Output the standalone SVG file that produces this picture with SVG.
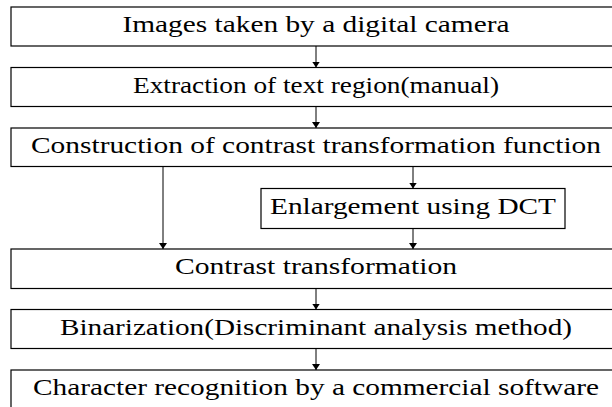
<svg xmlns="http://www.w3.org/2000/svg" width="612" height="407" viewBox="0 0 612 407">
  <style>
    .box { fill: #ffffff; stroke: #000000; stroke-width: 1.2; }
    .edge { stroke: #000000; stroke-width: 1; fill: none; marker-end: url(#arrow); }
  </style>
  <defs>
    <marker id="arrow" viewBox="0 0 6 8" refX="6" refY="4" markerWidth="6" markerHeight="8" markerUnits="userSpaceOnUse" orient="auto">
      <path d="M0,0 L6,4 L0,8 Z" fill="#000000"/>
    </marker>
  </defs>
  <rect width="612" height="407" fill="#ffffff"/>

  <!-- vertical flow arrows -->
  <g id="connectors">
    <line class="edge" x1="316" y1="46" x2="316" y2="67.5"/>
    <line class="edge" x1="316" y1="106.5" x2="316" y2="128"/>
    <line class="edge" x1="163" y1="166.5" x2="163" y2="249"/>
    <line class="edge" x1="413" y1="166.5" x2="413" y2="188.5"/>
    <line class="edge" x1="413" y1="228.5" x2="413" y2="249"/>
    <line class="edge" x1="316" y1="288" x2="316" y2="309.5"/>
    <line class="edge" x1="316" y1="348.5" x2="316" y2="370"/>
  </g>

  <g font-family="'Liberation Serif', serif" font-size="23.5" fill="#000000" text-anchor="middle">
    <g id="camera">
      <rect class="box" x="11" y="7" width="620" height="39"/>
      <text x="316" y="32.3" textLength="387" lengthAdjust="spacingAndGlyphs">Images taken by a digital camera</text>
    </g>
    <g id="extraction">
      <rect class="box" x="11" y="67.5" width="620" height="39"/>
      <text x="316" y="92.8" textLength="366" lengthAdjust="spacingAndGlyphs">Extraction of text region(manual)</text>
    </g>
    <g id="construction">
      <rect class="box" x="11" y="128" width="620" height="38.5"/>
      <text x="316" y="153.3" textLength="570" lengthAdjust="spacingAndGlyphs">Construction of contrast transformation function</text>
    </g>
    <g id="enlargement">
      <rect class="box" x="261" y="188.5" width="304" height="40"/>
      <text x="413" y="213.8" textLength="286" lengthAdjust="spacingAndGlyphs">Enlargement using DCT</text>
    </g>
    <g id="contrast">
      <rect class="box" x="11" y="249" width="620" height="39.5"/>
      <text x="316" y="274.3" textLength="282" lengthAdjust="spacingAndGlyphs">Contrast transformation</text>
    </g>
    <g id="binarization">
      <rect class="box" x="11" y="309.5" width="620" height="39"/>
      <text x="316" y="334.8" textLength="512" lengthAdjust="spacingAndGlyphs">Binarization(Discriminant analysis method)</text>
    </g>
    <g id="recognition">
      <rect class="box" x="11" y="370" width="620" height="45"/>
      <text x="316" y="395.3" textLength="566" lengthAdjust="spacingAndGlyphs">Character recognition by a commercial software</text>
    </g>
  </g>
</svg>
